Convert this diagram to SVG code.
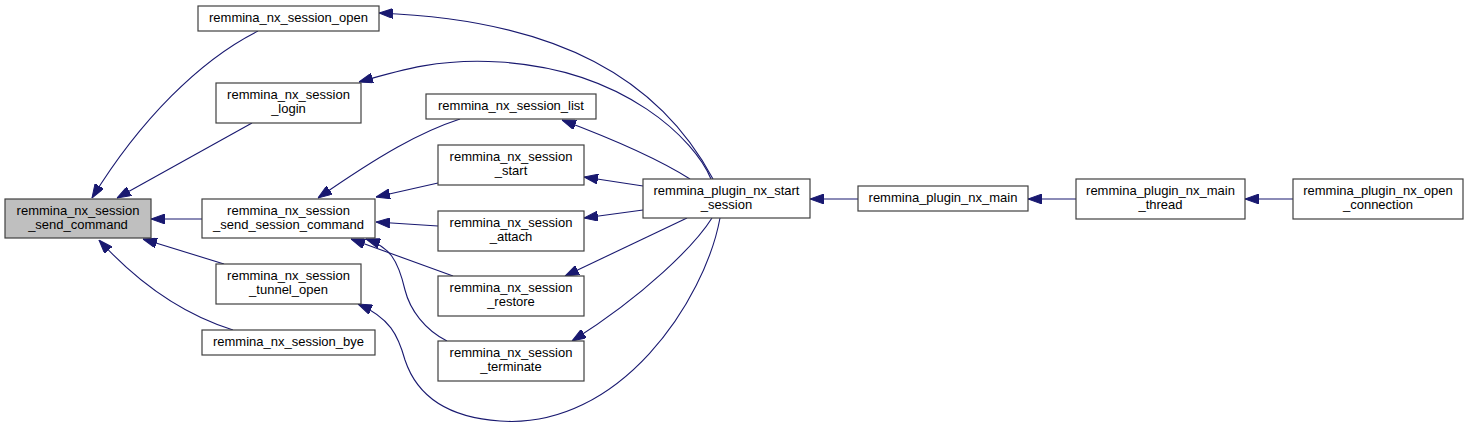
<svg xmlns="http://www.w3.org/2000/svg" width="1468" height="427" viewBox="0 0 1468 427">
<style>
.node rect{fill:#ffffff;stroke:#404040;stroke-width:1.2}
.node.sel rect{fill:#bfbfbf}
.node text{font-family:"Liberation Sans",Arial,Helvetica,sans-serif;font-size:13px;fill:#000000;text-anchor:middle}
.edges path{fill:none;stroke:#191970;stroke-width:1.1;marker-end:url(#arr)}
</style>
<defs>
<marker id="arr" viewBox="0 0 14 10" refX="14" refY="5" markerWidth="14" markerHeight="10" markerUnits="userSpaceOnUse" orient="auto">
<path d="M0,0 L14,5 L0,10 z" fill="#191970" stroke="#191970" stroke-width="1"/>
</marker>
</defs>
<rect width="1468" height="427" fill="#ffffff"/>
<g class="edges" id="edges">
<path d="M258,31 C200,60 140,120 92,198"/>
<path d="M252,123 L117,198"/>
<path d="M202,219 L151,219"/>
<path d="M224,264 L143,239"/>
<path d="M233,330 C185,315 140,285 99,240"/>
<path d="M460,119 C420,132 380,155 318,198"/>
<path d="M438,183 L376,197"/>
<path d="M438,226 L376,222"/>
<path d="M453,276 L351,239"/>
<path d="M447,341 C425,330 410,310 405,290 C398,260 390,247 366,239"/>
<path d="M713,179 C660,80 560,20 379,13"/>
<path d="M711,179 C695,140 625,70 500,62 C440,58 400,70 359,82"/>
<path d="M690,179 C660,160 610,138 562,120"/>
<path d="M643,186 L584,177"/>
<path d="M643,210 L584,218"/>
<path d="M687,218 L565,276"/>
<path d="M712,218 C695,245 645,295 572,341"/>
<path d="M720,218 C705,300 620,430 500,421 C440,417 415,390 405,360 C398,335 390,318 358,304"/>
<path d="M858,199 L810,199"/>
<path d="M1076,199 L1028,199"/>
<path d="M1293,199 L1245,199"/>
</g>
<g class="node sel" id="n_send_command"><rect x="5" y="199" width="146" height="39"/><text x="78" y="215">remmina_nx_session</text><text x="78" y="229">_send_command</text></g>
<g class="node" id="n_open"><rect x="198" y="6" width="181" height="25"/><text x="288.5" y="22">remmina_nx_session_open</text></g>
<g class="node" id="n_login"><rect x="216" y="83" width="145" height="40"/><text x="288.5" y="99">remmina_nx_session</text><text x="288.5" y="113">_login</text></g>
<g class="node" id="n_send_session_command"><rect x="202" y="199" width="173" height="39"/><text x="288.5" y="215">remmina_nx_session</text><text x="288.5" y="229">_send_session_command</text></g>
<g class="node" id="n_tunnel_open"><rect x="216" y="264" width="145" height="40"/><text x="288.5" y="280">remmina_nx_session</text><text x="288.5" y="294">_tunnel_open</text></g>
<g class="node" id="n_bye"><rect x="202" y="330" width="173" height="25"/><text x="288.5" y="346">remmina_nx_session_bye</text></g>
<g class="node" id="n_list"><rect x="426" y="94" width="170" height="25"/><text x="511" y="110">remmina_nx_session_list</text></g>
<g class="node" id="n_start"><rect x="438" y="145" width="146" height="40"/><text x="511" y="161">remmina_nx_session</text><text x="511" y="175">_start</text></g>
<g class="node" id="n_attach"><rect x="438" y="211" width="146" height="40"/><text x="511" y="227">remmina_nx_session</text><text x="511" y="241">_attach</text></g>
<g class="node" id="n_restore"><rect x="438" y="276" width="146" height="40"/><text x="511" y="292">remmina_nx_session</text><text x="511" y="306">_restore</text></g>
<g class="node" id="n_terminate"><rect x="438" y="341" width="146" height="40"/><text x="511" y="357">remmina_nx_session</text><text x="511" y="371">_terminate</text></g>
<g class="node" id="n_start_session"><rect x="643" y="179" width="167" height="39"/><text x="726.5" y="195">remmina_plugin_nx_start</text><text x="726.5" y="209">_session</text></g>
<g class="node" id="n_nx_main"><rect x="858" y="186" width="170" height="25"/><text x="943" y="202">remmina_plugin_nx_main</text></g>
<g class="node" id="n_main_thread"><rect x="1076" y="179" width="169" height="40"/><text x="1160.5" y="195">remmina_plugin_nx_main</text><text x="1160.5" y="209">_thread</text></g>
<g class="node" id="n_open_connection"><rect x="1293" y="179" width="170" height="40"/><text x="1378" y="195">remmina_plugin_nx_open</text><text x="1378" y="209">_connection</text></g>
</svg>
